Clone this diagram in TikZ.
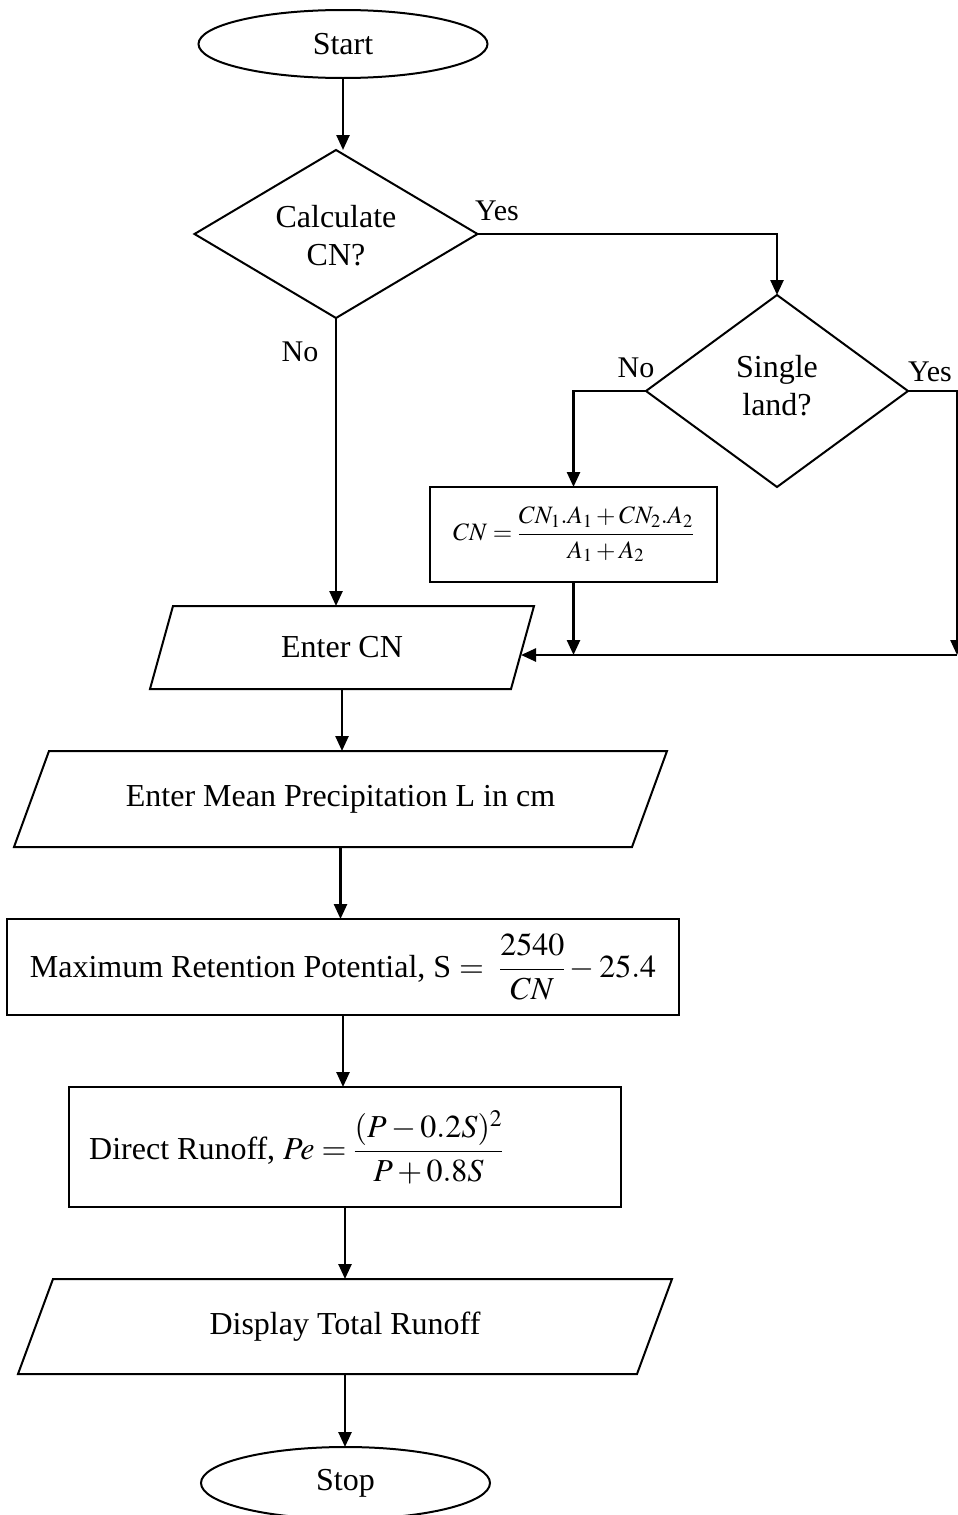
\documentclass[tikz,border=0pt]{standalone}
\usepackage{amsmath}
\usepackage{mathptmx}
\usepackage[no-math]{fontspec}
\setmainfont{Liberation Serif}
\usetikzlibrary{shapes.geometric,arrows.meta}
\tikzset{
  shp/.style={draw, line width=2pt, inner sep=0pt, outer sep=0pt, align=center,
              font=\fontsize{32}{38}\selectfont},
  term/.style={shp, ellipse, minimum width=289pt, minimum height=68pt},
  dec/.style={shp, diamond},
  iotext/.style={shp, draw=none, rectangle},
  iobox/.style={line width=2pt, line join=miter},
  proc/.style={shp, rectangle},
  arr/.style={line width=2.5pt, -{Triangle[length=15pt,width=13pt]}},
  lbl/.style={inner sep=0pt, font=\fontsize{30}{36}\selectfont}
}
\begin{document}
\begin{tikzpicture}[x=1pt,y=-1pt]
\useasboundingbox (0,0) rectangle (958,1515);
\node[term] (start) at (343,44) {Start};
\node[dec, minimum width=283pt, minimum height=168pt] (d1) at (336,234) {};
\node[lbl, font=\fontsize{32}{38}\selectfont, align=center] (d1t) at (336,236) {Calculate\\CN?};
\node[dec, minimum width=262pt, minimum height=192pt] (d2) at (777,391) {};
\node[lbl, font=\fontsize{32}{38}\selectfont, align=center] (d2t) at (777,386) {Single\\land?};
\node[proc, minimum width=287pt, minimum height=95pt, font=\fontsize{25}{30}\selectfont] (f) at (573.5,534.5)
  {$CN=\dfrac{CN_1.A_1+CN_2.A_2}{A_1+A_2}$};

\node[iotext, minimum width=361pt, minimum height=83pt] (ecn) at (342,647.5) {Enter CN};
\draw[iobox] ([xshift=11.5pt]ecn.north west) -- ([xshift=11.5pt]ecn.north east)
  -- ([xshift=-11.5pt]ecn.south east) -- ([xshift=-11.5pt]ecn.south west) -- cycle;

\node[iotext, minimum width=618pt, minimum height=96pt] (emp) at (340.5,799) {Enter Mean Precipitation L in cm};
\draw[iobox] ([xshift=17.5pt]emp.north west) -- ([xshift=17.5pt]emp.north east)
  -- ([xshift=-17.5pt]emp.south east) -- ([xshift=-17.5pt]emp.south west) -- cycle;

\node[proc, minimum width=672pt, minimum height=96pt] (ret) at (343,967)
  {Maximum Retention Potential, S $=\ \dfrac{2540}{CN}-25.4$};
\node[proc, minimum width=552pt, minimum height=120pt] (run) at (345,1147) {};
\node[lbl, anchor=west, font=\fontsize{32}{38}\selectfont] (runt) at (89,1147)
  {Direct Runoff, $Pe=\dfrac{(P-0.2S)^2}{P+0.8S}$};

\node[iotext, minimum width=619pt, minimum height=95pt] (disp) at (345,1326.5) {Display Total Runoff};
\draw[iobox] ([xshift=17.5pt]disp.north west) -- ([xshift=17.5pt]disp.north east)
  -- ([xshift=-17.5pt]disp.south east) -- ([xshift=-17.5pt]disp.south west) -- cycle;

\node[term, minimum height=72pt] (stop) at (345.5,1483) {Stop};

\node[lbl] (yes1) at (497,211) {Yes};
\node[lbl] (no1) at (300,352) {No};
\node[lbl] (no2) at (636,368) {No};
\node[lbl] (yes2) at (930,372) {Yes};

\coordinate (rc) at (957,655);
\coordinate (lc) at (573.5,655);
\coordinate (ecnr) at (521,655);

\draw[arr] (start.south) -- (start.south |- d1.north);
\draw[arr] (d1.east) -| (d2.north);
\draw[arr] (d1.south) -- (d1.south |- ecn.north);
\draw[arr] (d2.west) -| (f.north);
\draw[arr] (d2.east) -| (rc);
\draw[arr] (f.south) -- (lc);
\draw[arr] (rc) -- (ecnr);
\draw[arr] (ecn.south) -- (ecn.south |- emp.north);
\draw[arr] (emp.south) -- (emp.south |- ret.north);
\draw[arr] (ret.south) -- (ret.south |- run.north);
\draw[arr] (run.south) -- (run.south |- disp.north);
\draw[arr] (disp.south) -- (disp.south |- stop.north);
\end{tikzpicture}
\end{document}
